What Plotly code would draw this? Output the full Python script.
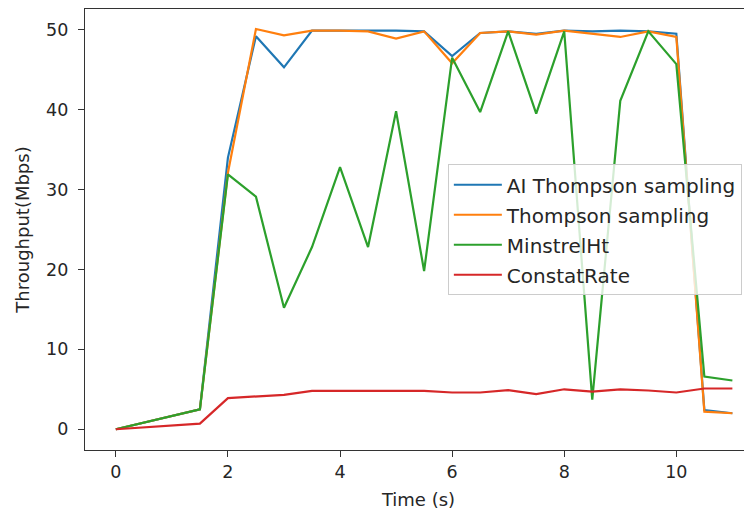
import plotly.graph_objects as go

time_s = [0, 1.5, 2, 2.5, 3, 3.5, 4, 4.5, 5, 5.5, 6, 6.5, 7, 7.5, 8, 8.5, 9, 9.5, 10, 10.5, 11]
ai_thompson = [0, 2.5, 34.0, 49.2, 45.3, 49.9, 49.9, 49.9, 49.9, 49.8, 46.7, 49.6, 49.8, 49.5, 49.9, 49.8, 49.9, 49.8, 49.5, 2.4, 2.0]
thompson = [0, 2.5, 32.1, 50.1, 49.3, 49.9, 49.9, 49.8, 48.9, 49.8, 45.8, 49.6, 49.8, 49.4, 49.9, 49.5, 49.1, 49.8, 49.1, 2.2, 2.0]
minstrel = [0, 2.5, 31.9, 29.1, 15.2, 22.8, 32.8, 22.8, 39.8, 19.8, 46.5, 39.7, 49.8, 39.5, 49.8, 3.7, 41.1, 49.8, 45.7, 6.6, 6.1]
constant = [0, 0.7, 3.9, 4.1, 4.3, 4.8, 4.8, 4.8, 4.8, 4.8, 4.6, 4.6, 4.9, 4.4, 5.0, 4.7, 5.0, 4.85, 4.6, 5.1, 5.1]

series = [
    ("AI Thompson sampling", ai_thompson, "#1f77b4"),
    ("Thompson sampling", thompson, "#ff7f0e"),
    ("MinstrelHt", minstrel, "#2ca02c"),
    ("ConstatRate", constant, "#d62728"),
]
x_ticks = [0, 2, 4, 6, 8, 10]
y_ticks = [0, 10, 20, 30, 40, 50]

fig = go.Figure()
for i, (name, vals, col) in enumerate(series):
    fig.add_trace(go.Scatter(x=time_s, y=vals, mode="lines", name=name,
                             legendgroup=f"g{i}",
                             line=dict(color=col, width=2.2)))

font = "DejaVu Sans"
fig.update_layout(
    width=744, height=509,
    margin=dict(l=77, r=0, t=1, b=67),
    paper_bgcolor="white", plot_bgcolor="white",
    font=dict(family=font, size=18, color="#262626"),
    showlegend=True,
    legend=dict(x=0.544, y=0.648, xanchor="left", yanchor="top",
                bgcolor="rgba(255,255,255,0.8)", bordercolor="#cccccc", borderwidth=1,
                font=dict(family=font, size=20, color="#262626"),
                tracegroupgap=1, itemwidth=48),
    xaxis=dict(range=[-0.55, 11.35], tickvals=x_ticks, ticks="outside", ticklen=6,
               tickwidth=1.2, tickcolor="#333", showgrid=False, zeroline=False,
               showline=True, linecolor="#333", linewidth=1.3, mirror=True,
               tickfont=dict(size=17.5),
               title=dict(text="Time (s)", font=dict(size=18), standoff=12)),
    yaxis=dict(range=[-2.6, 52.6], tickvals=y_ticks, ticks="outside", ticklen=6,
               tickwidth=1.2, tickcolor="#333", showgrid=False, zeroline=False,
               showline=True, linecolor="#333", linewidth=1.3,
               tickfont=dict(size=17.5), ticklabelstandoff=6,
               title=dict(text="Throughput(Mbps)", font=dict(size=18), standoff=11)),
)

fig.write_html("out.html")
